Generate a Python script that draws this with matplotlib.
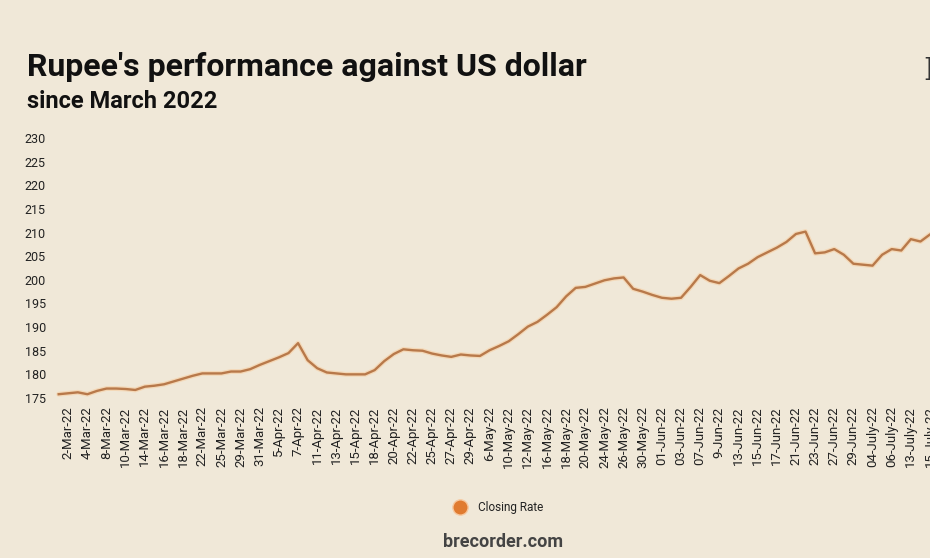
import matplotlib.pyplot as plt

# closing rate, one value per trading day from 1-Mar-22 on
rate = [175.8, 176.0, 176.2, 175.8, 176.5, 177.0, 177.0, 176.9, 176.7, 177.4,
        177.6, 177.9, 178.5, 179.1, 179.7, 180.2, 180.2, 180.2, 180.6, 180.6,
        181.1, 182.0, 182.8, 183.6, 184.5, 186.6, 183.0, 181.3, 180.4, 180.2,
        180.0, 180.0, 180.0, 180.9, 182.8, 184.3, 185.3, 185.1, 185.0, 184.4,
        184.0, 183.7, 184.2, 184.0, 183.9, 185.1, 186.0, 187.0, 188.5, 190.1,
        191.1, 192.6, 194.2, 196.5, 198.3, 198.5, 199.2, 199.9, 200.3, 200.5,
        198.1, 197.5, 196.8, 196.2, 196.0, 196.2, 198.5, 201.0, 199.8, 199.3,
        200.8, 202.4, 203.4, 204.8, 205.8, 206.8, 208.0, 209.7, 210.2, 205.6,
        205.8, 206.5, 205.3, 203.4, 203.2, 203.0, 205.3, 206.5, 206.2, 208.6,
        208.1, 209.6, 210.4]

# labels shown on every second day
tick_labels = ["2-Mar-22", "4-Mar-22", "8-Mar-22", "10-Mar-22", "14-Mar-22",
               "16-Mar-22", "18-Mar-22", "22-Mar-22", "25-Mar-22", "29-Mar-22",
               "31-Mar-22", "5-Apr-22", "7-Apr-22", "11-Apr-22", "13-Apr-22",
               "15-Apr-22", "18-Apr-22", "20-Apr-22", "22-Apr-22", "25-Apr-22",
               "27-Apr-22", "29-Apr-22", "6-May-22", "10-May-22", "12-May-22",
               "16-May-22", "18-May-22", "20-May-22", "24-May-22", "26-May-22",
               "30-May-22", "01-Jun-22", "03-Jun-22", "07-Jun-22", "9-Jun-22",
               "13-Jun-22", "15-Jun-22", "17-Jun-22", "21-Jun-22", "23-Jun-22",
               "27-Jun-22", "29-Jun-22", "04-July-22", "06-July-22",
               "13-July-22", "15-July-22"]

yticks = list(range(175, 231, 5))

bg = "#F0E8D8"
line_c = "#B8794A"
dot_c = "#E07B30"

plt.rcParams['font.family'] = ['Roboto', 'DejaVu Sans']

fig = plt.figure(figsize=(9.3, 5.58), dpi=100, facecolor=bg)
W, H = 930, 558
# axes: left edge at px 50, right edge at the image border (chart is cropped)
ax = fig.add_axes([50 / W, 1 - 398 / H, 1 - 50 / W, 260 / H])
ax.set_facecolor(bg)

x = list(range(len(rate)))
ax.plot(x, rate, color="#F9C58F", lw=3.5, alpha=0.45, solid_capstyle="round")
ax.plot(x, rate, color=line_c, lw=1.7, label="Closing Rate")

step = 9.595
ax.set_xlim(-8.7 / step, (930 - 58.7) / step)
ax.set_ylim(175, 230)
ax.set_yticks(yticks)
ax.set_yticklabels([str(v) for v in yticks], fontsize=9, color="#222222")
ax.set_xticks(range(1, 2 * len(tick_labels), 2))
ax.set_xticklabels(tick_labels, rotation=90, fontsize=9.5, color="#222222")
ax.tick_params(length=0, pad=6)
ax.tick_params(axis="y", pad=3)
for s in ax.spines.values():
    s.set_visible(False)

fig.text(27 / W, 1 - 67 / H, "Rupee's performance against US dollar",
         fontsize=23, fontweight="bold", color="#111111", va="center")
fig.text(27 / W, 1 - 101 / H, "since March 2022",
         fontsize=17, fontweight="bold", color="#111111", va="center")
# cropped logo at the top right
fig.text(923 / W, 1 - 72 / H, "B", family="DejaVu Serif", fontsize=22,
         color="#333333", va="center")

# legend
fig.lines.append(plt.Line2D([460 / W], [1 - 507 / H], transform=fig.transFigure,
                            marker="o", ms=11, color=dot_c, mec="#F7C9A0", mew=1))
fig.text(478 / W, 1 - 507 / H, "Closing Rate", fontsize=8.5,
         color="#222222", va="center")

fig.text(503 / W, 1 - 542 / H, "brecorder.com", fontsize=13,
         fontweight="bold", color="#444444", ha="center", va="center")

fig.savefig("out.png", dpi=100, facecolor=bg)
